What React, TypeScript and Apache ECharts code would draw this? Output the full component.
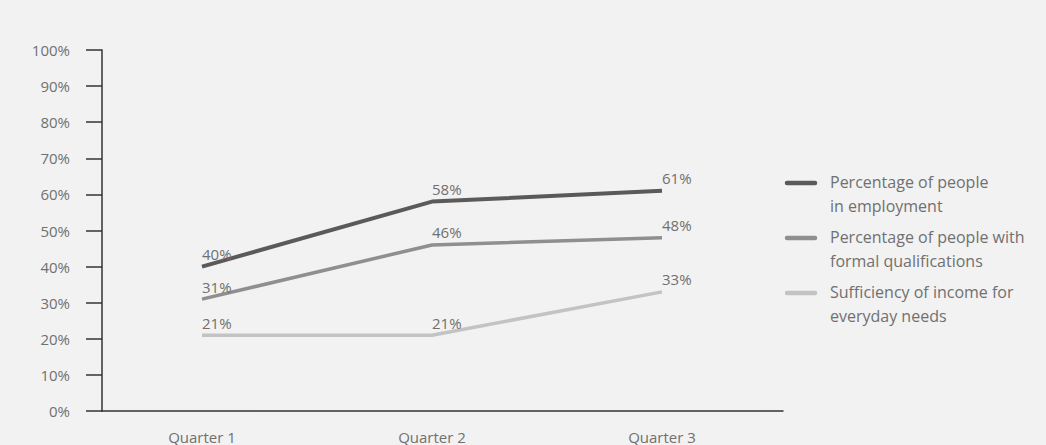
import React, { useEffect, useRef } from "react";
import * as echarts from "echarts";

const quarters = ["Quarter 1", "Quarter 2", "Quarter 3"];
const seriesNames = [
  "Percentage of people\nin employment",
  "Percentage of people with\nformal qualifications",
  "Sufficiency of income for\neveryday needs",
];
const employment = [40, 58, 61];
const qualifications = [31, 46, 48];
const income = [21, 21, 33];
const seriesValues = [employment, qualifications, income];
const colors = ["#5a5a5a", "#8f8f8f", "#c3c3c3"];
const yTicks = [0, 10, 20, 30, 40, 50, 60, 70, 80, 90, 100];

const FONT = "'Open Sans', sans-serif";
const TEXT = "#707070";

export default function App() {
  const ref = useRef<HTMLDivElement>(null);
  useEffect(() => {
    document.body.style.margin = "0";
    document.body.style.background = "#f2f2f2";
    const chart = echarts.init(ref.current!, null, { renderer: "svg" });
    const series = seriesValues.map((vals, i) => ({
      name: seriesNames[i],
      type: "line",
      data: vals.map((v, j) => [j + 1, v]),
      symbol: "circle",
      symbolSize: 0,
      showSymbol: true,
      lineStyle: { color: colors[i], width: i === 0 ? 4 : 3.5 },
      itemStyle: { color: colors[i] },
      label: {
        show: true,
        position: "top",
        align: "left",
        distance: 5,
        color: TEXT,
        fontSize: 15,
        fontFamily: FONT,
        formatter: (p: any) => p.value[1] + "%",
      },
      emphasis: { disabled: true },
    }));
    const legendGraphics: any[] = [];
    seriesNames.forEach((name, i) => {
      legendGraphics.push({
        type: "line",
        shape: { x1: 787, y1: 183 + 55 * i, x2: 815, y2: 183 + 55 * i },
        style: { stroke: colors[i], lineWidth: 4.5, lineCap: "round" },
      });
      legendGraphics.push({
        type: "text",
        x: 830,
        y: 170 + 55 * i,
        style: {
          text: name,
          fill: TEXT,
          fontSize: 16,
          fontFamily: FONT,
          lineHeight: 24,
          verticalAlign: "top",
          align: "left",
        },
      });
    });
    chart.setOption({
      animation: false,
      backgroundColor: "#f2f2f2",
      grid: { left: 102, right: 263, top: 50, bottom: 34 },
      xAxis: {
        type: "value",
        min: 1 - 100 / 230,
        max: 3 + 121 / 230,
        splitNumber: 3,
        axisLine: { show: true, lineStyle: { color: "#333", width: 1.5 } },
        axisTick: { show: false },
        splitLine: { show: false },
        axisLabel: {
          margin: 18,
          color: TEXT,
          fontSize: 15,
          lineHeight: 15,
          fontFamily: FONT,
          showMinLabel: false,
          showMaxLabel: false,
          formatter: (v: number) => {
            const r = Math.round(v);
            return Math.abs(v - r) < 1e-6 && r >= 1 && r <= quarters.length ? quarters[r - 1] : "";
          },
        },
      },
      yAxis: {
        type: "value",
        min: yTicks[0],
        max: yTicks[yTicks.length - 1],
        interval: 10,
        axisLine: { show: true, lineStyle: { color: "#333", width: 1.5 } },
        axisTick: { show: true, length: 16, lineStyle: { color: "#333", width: 1.5 } },
        splitLine: { show: false },
        axisLabel: {
          margin: 32,
          color: TEXT,
          fontSize: 15,
          fontFamily: FONT,
          formatter: "{value}%",
        },
      },
      series,
      graphic: legendGraphics,
    });
    return () => chart.dispose();
  }, []);
  return <div ref={ref} style={{ width: 1046, height: 445 }} />;
}
